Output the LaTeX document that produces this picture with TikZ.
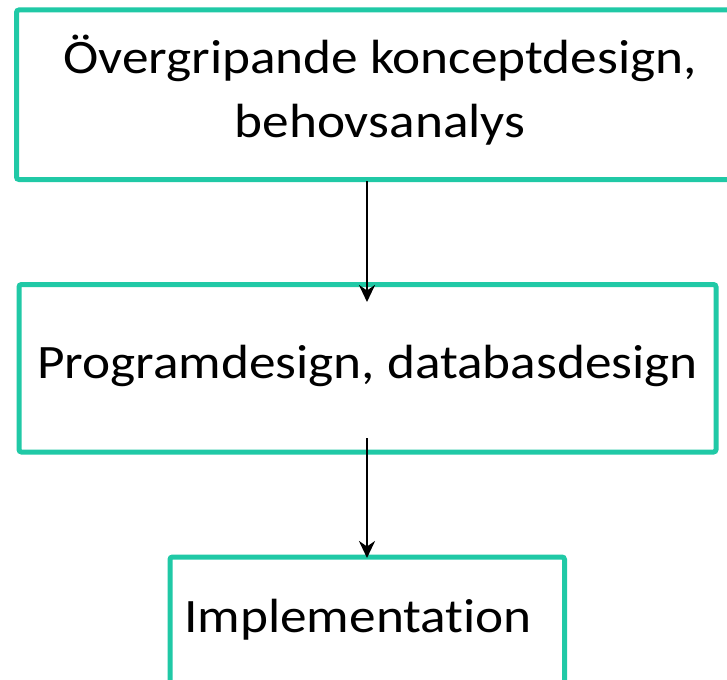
\documentclass[tikz,border=0pt]{standalone}
\usepackage{fontspec}
\setmainfont{Carlito}[FakeStretch=1.11, Ligatures=NoCommon]
\usetikzlibrary{arrows.meta}
\definecolor{teal1}{RGB}{32,201,166}
\tikzset{
  box/.style={draw=teal1, line width=5pt, rounded corners=2.5pt, inner sep=0pt},
  lbl/.style={font=\fontsize{48}{58.5}\selectfont, inner sep=0pt, anchor=base},
  arr/.style={line width=2.8pt, -{Stealth[length=17pt,width=16pt]}}
}
\begin{document}
\begin{tikzpicture}[x=1pt,y=1pt]
\useasboundingbox (0,0) rectangle (727,-679);
\clip (0,0) rectangle (727,-679);
\fill[white] (0,0) rectangle (727,-679);
% boxes
\draw[box] (16.5,-10) rectangle (745,-179.5);
\draw[box] (19,-284.5) rectangle (716,-452);
\draw[box] (170,-557) rectangle (564.5,-720);
% labels
\node[lbl] (t1a) at (380,-73.5) {Övergripande konceptdesign,};
\node[lbl] (t1b) at (380,-137.5) {behovsanalys};
\node[lbl] (t2) at (367.5,-378) {Programdesign, databasdesign};
\node[lbl, anchor=base west] (t3) at (184,-632) {Implementation};
% arrows
\coordinate (a1s) at (367,-181);
\coordinate (a1e) at (367,-302);
\coordinate (a2s) at (367,-438);
\coordinate (a2e) at (367,-558);
\draw[arr] (a1s) -- (a1e);
\draw[arr] (a2s) -- (a2e);
\end{tikzpicture}
\end{document}
